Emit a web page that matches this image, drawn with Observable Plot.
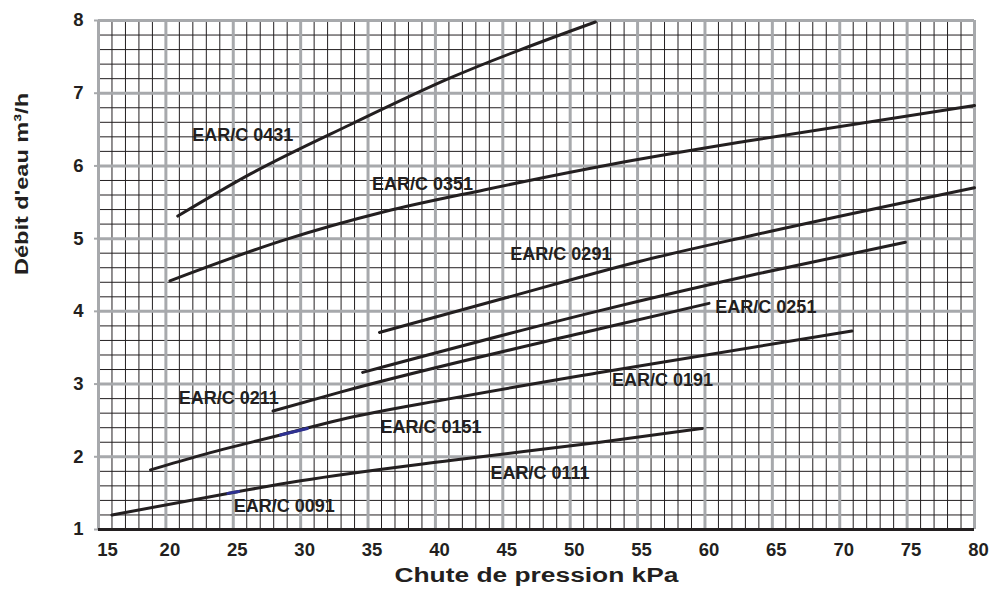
<!DOCTYPE html>
<html>
<head>
<meta charset="utf-8">
<script src="https://cdn.jsdelivr.net/npm/d3@7"></script>
<script src="https://cdn.jsdelivr.net/npm/@observablehq/plot@0.6"></script>
<style>
  html, body { margin: 0; padding: 0; background: #ffffff; }
</style>
</head>
<body>
<div id="chart"></div>
<script>
// ---- data ----
const xTicks = [15, 20, 25, 30, 35, 40, 45, 50, 55, 60, 65, 70, 75, 80];
const yTicks = [1, 2, 3, 4, 5, 6, 7, 8];

const curveNames = ["EAR/C 0431", "EAR/C 0351", "EAR/C 0291", "EAR/C 0251", "EAR/C 0211", "EAR/C 0151-0191", "EAR/C 0091-0111"];
const curve0431 = [[20.88, 5.31], [26.28, 5.89], [33.7, 6.57], [41.1, 7.21], [51.87, 7.98]];
const curve0351 = [[20.3, 4.42], [28.75, 4.98], [36.2, 5.37], [43.6, 5.67], [53, 6.02], [63.4, 6.35], [80, 6.83]];
const curve0291 = [[35.85, 3.71], [45.3, 4.19], [55.2, 4.69], [63.4, 5.04], [80, 5.70]];
const curve0251 = [[34.6, 3.16], [52.2, 4.01], [64, 4.52], [74.87, 4.95]];
const curve0211 = [[27.95, 2.63], [32.95, 2.89], [52.2, 3.76], [60.3, 4.11]];
const curve0151 = [[18.86, 1.82], [22.57, 2.02], [28.5, 2.30], [32.95, 2.51], [41.1, 2.80], [52.2, 3.16], [70.9, 3.73]];
const curve0091 = [[16.0, 1.20], [25, 1.51], [30, 1.67], [41.1, 1.95], [52.2, 2.20], [59.8, 2.39]];
const curvePoints = [curve0431, curve0351, curve0291, curve0251, curve0211, curve0151, curve0091];

// short blue-tinted pieces visible on two curves
const blue0151 = [[28.5, 2.30], [30.5, 2.39]];
const blue0091 = [[24.6, 1.497], [25.4, 1.523]];

const labelText = ["EAR/C 0431", "EAR/C 0351", "EAR/C 0291", "EAR/C 0251", "EAR/C 0211", "EAR/C 0191", "EAR/C 0151", "EAR/C 0111", "EAR/C 0091"];
const labelX = [21.95, 35.3, 45.56, 60.77, 20.96, 53.1, 35.92, 44.08, 25.04];
const labelY = [6.42, 5.755, 4.78, 4.06, 2.80, 3.05, 2.40, 1.77, 1.32];

const xTitle = "Chute de pression kPa";
const yTitle = "Débit d'eau m³/h";

// ---- build tables ----
const lineData = curveNames.flatMap((name, i) => curvePoints[i].map(([x, y]) => ({name, x, y})));
const blueData = [
  ...blue0151.map(([x, y]) => ({name: "b0151", x, y})),
  ...blue0091.map(([x, y]) => ({name: "b0091", x, y}))
];
const labels = labelText.map((t, i) => ({t, x: labelX[i], y: labelY[i]}));

const minorX = d3.range(15, 81).filter(d => d % 5 !== 0);
const minorY = d3.range(5, 41).filter(d => d % 5 !== 0).map(d => d / 5);

const ink = "#231f20";
const grey = "#a7a9ac";
const font = "'Liberation Sans', Arial, Helvetica, sans-serif";

const chart = Plot.plot({
  width: 992,
  height: 596,
  marginLeft: 98,
  marginRight: 18,
  marginTop: 20,
  marginBottom: 67,
  x: {domain: [15, 80], axis: null},
  y: {domain: [1, 8], axis: null},
  style: {fontFamily: font, background: "#ffffff", overflow: "visible"},
  marks: [
    Plot.ruleX(minorX, {x: d => d, stroke: ink, strokeWidth: 1}),
    Plot.ruleY(minorY, {y: d => d, stroke: ink, strokeWidth: 1}),
    Plot.ruleX(xTicks, {x: d => d, stroke: grey, strokeWidth: 3}),
    Plot.ruleY(yTicks, {y: d => d, stroke: grey, strokeWidth: 3}),
    Plot.axisY(yTicks, {tickSize: 4, tickFormat: () => "", stroke: grey, strokeWidth: 2, label: null}),
    Plot.ruleY([1], {y: d => d, stroke: ink, strokeWidth: 3}),
    Plot.line(lineData, {x: "x", y: "y", z: "name", stroke: ink, strokeWidth: 3, curve: "monotone-x"}),
    Plot.line(blueData, {x: "x", y: "y", z: "name", stroke: "#2e3192", strokeWidth: 3}),
    Plot.text(labels, {x: "x", y: "y", text: "t", textAnchor: "start", fontSize: 18, fontWeight: "bold", fill: ink}),
    Plot.text(yTicks, {y: d => d, text: d => String(d), frameAnchor: "left", dx: -15, textAnchor: "end", fontSize: 18.5, fontWeight: "bold", fill: ink}),
    Plot.text(xTicks.slice(0, 1), {x: d => d, text: d => String(d), frameAnchor: "bottom", lineAnchor: "top", dy: 13, dx: 9, fontSize: 18.5, fontWeight: "bold", fill: ink}),
    Plot.text(xTicks.slice(1), {x: d => d, text: d => String(d), frameAnchor: "bottom", lineAnchor: "top", dy: 13, dx: 4, fontSize: 18.5, fontWeight: "bold", fill: ink}),
    Plot.text([xTitle], {text: d => d, frameAnchor: "bottom", dy: 52, fontSize: 20, fontWeight: "bold", fill: ink}),
    Plot.text([yTitle], {text: d => d, frameAnchor: "left", dx: -77, rotate: -90, fontSize: 19, fontWeight: "bold", fill: ink})
  ]
});

const svg = d3.select(chart);
svg.selectAll("text")
  .filter(function () { return this.textContent === yTitle; })
  .attr("textLength", 182)
  .attr("lengthAdjust", "spacingAndGlyphs");
svg.selectAll("text")
  .filter(function () { return this.textContent === xTitle; })
  .attr("textLength", 284)
  .attr("lengthAdjust", "spacingAndGlyphs");

document.getElementById("chart").appendChild(chart);
</script>
</body>
</html>
